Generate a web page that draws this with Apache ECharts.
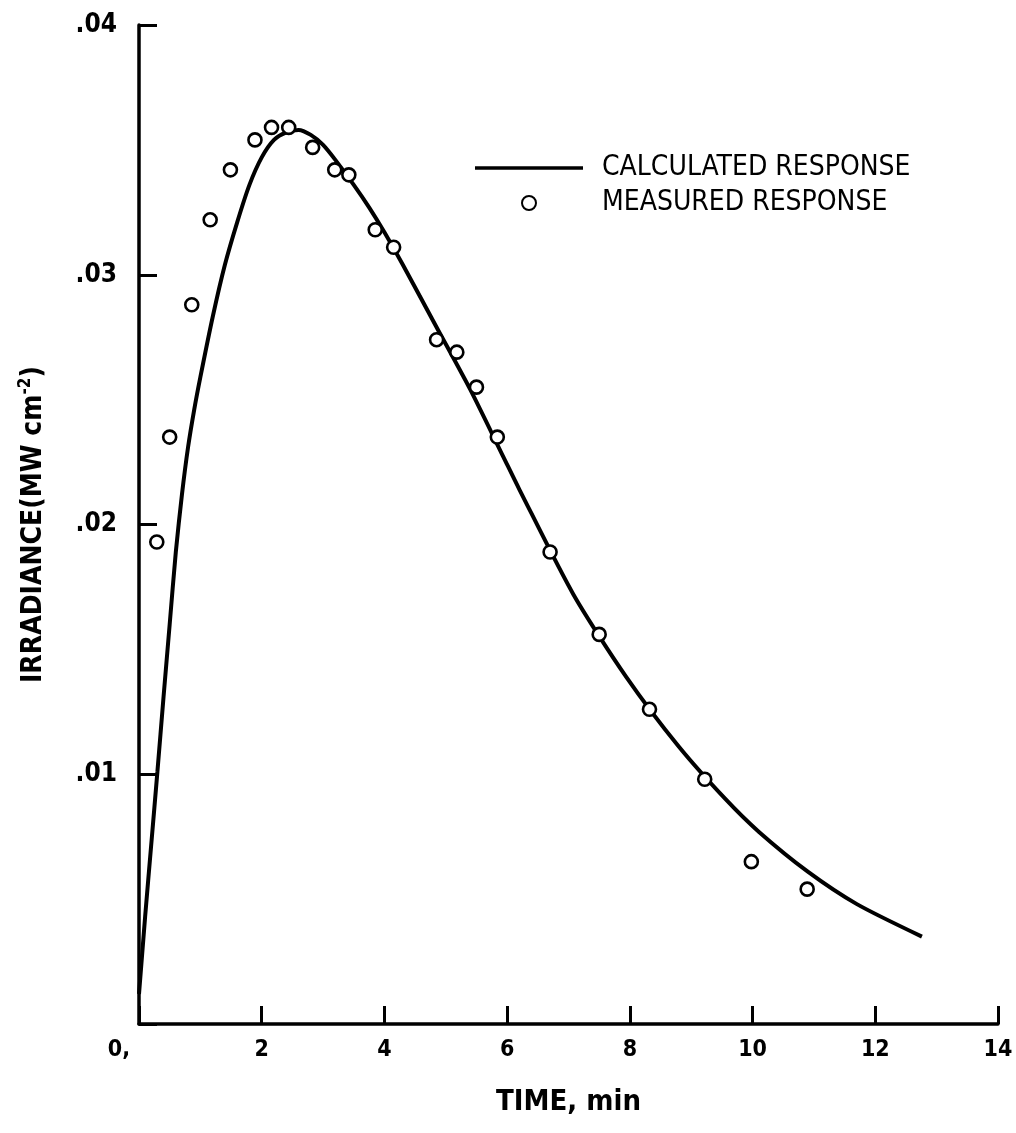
<!DOCTYPE html>
<html>
<head>
<meta charset="utf-8">
<title>Irradiance vs time</title>
<script src="https://cdn.jsdelivr.net/npm/echarts@6/dist/echarts.min.js"></script>
<style>
  html, body { margin: 0; padding: 0; background: #ffffff; }
  #chart { width: 1016px; height: 1133px; }
</style>
</head>
<body>
<div id="chart"></div>
<script>
// Axis tick labels
const xTickLabels = ['0,', '2', '4', '6', '8', '10', '12', '14'];
const yTickLabels = ['', '.01', '.02', '.03', '.04'];

// Calculated response curve (time in min, irradiance in MW cm^-2)
const calcTime = [0.0, 0.1, 0.2, 0.3, 0.4, 0.5, 0.6, 0.7, 0.8, 0.9, 1.0, 1.2, 1.4, 1.6, 1.8,
                  2.0, 2.2, 2.4, 2.6, 2.8, 3.0, 3.2, 3.5, 3.75, 4.0, 4.3, 4.85, 5.4, 5.94,
                  6.2, 7.08, 7.94, 8.8, 9.56, 10.1, 10.9, 11.7, 12.76];
const calcIrr  = [0.0012, 0.0043, 0.0072, 0.0101, 0.0131, 0.0160, 0.0189, 0.0212, 0.0231, 0.0246,
                  0.0259, 0.0283, 0.0304, 0.0321, 0.0336, 0.0347, 0.0354, 0.0357, 0.0358, 0.0356,
                  0.0352, 0.0346, 0.0336, 0.0327, 0.0317, 0.0304, 0.0279, 0.0254, 0.0227,
                  0.0214, 0.0172, 0.0139, 0.0111, 0.0090, 0.0077, 0.0061, 0.0048, 0.0035];

// Measured response points
const measTime = [0.29, 0.50, 0.86, 1.16, 1.49, 1.89, 2.16, 2.44, 2.83, 3.19, 3.42, 3.85,
                  4.15, 4.85, 5.18, 5.50, 5.84, 6.70, 7.50, 8.32, 9.22, 9.98, 10.89];
const measIrr  = [0.0193, 0.0235, 0.0288, 0.0322, 0.0342, 0.0354, 0.0359, 0.0359, 0.0351, 0.0342, 0.0340, 0.0318,
                  0.0311, 0.0274, 0.0269, 0.0255, 0.0235, 0.0189, 0.0156, 0.0126, 0.0098, 0.0065, 0.0054];

const COND = '"DejaVu Sans Condensed", "Liberation Sans Narrow", sans-serif';
const INK = '#000000';

const calcData = calcTime.map((t, i) => [t, calcIrr[i]]);
const measData = measTime.map((t, i) => [t, measIrr[i]]);

const chart = echarts.init(document.getElementById('chart'), null, { renderer: 'canvas' });

chart.setOption({
  backgroundColor: '#ffffff',
  animation: false,
  grid: { left: 139, right: 18, top: 25, bottom: 109, containLabel: false },
  legend: {
    orient: 'vertical',
    left: 475,
    top: 153,
    padding: 0,
    itemWidth: 108,
    itemHeight: 14,
    itemGap: 5,
    selectedMode: false,
    textStyle: {
      fontFamily: COND,
      fontSize: 28,
      color: INK,
      lineHeight: 30,
      padding: [0, 0, 0, 14]
    },
    data: [
      {
        name: 'CALCULATED RESPONSE',
        icon: 'path://M0,0H108V3.5H0Z',
        itemStyle: { color: INK, borderWidth: 0 }
      },
      { name: 'MEASURED RESPONSE', icon: 'circle' }
    ]
  },
  xAxis: {
    type: 'value',
    min: 0,
    max: 14,
    interval: 2,
    name: 'TIME, min',
    nameLocation: 'middle',
    nameGap: 64,
    nameTextStyle: { fontFamily: COND, fontWeight: 'bold', fontSize: 29, color: INK },
    axisLine: { show: true, lineStyle: { color: INK, width: 3.5 } },
    axisTick: { show: true, inside: true, length: 18, lineStyle: { color: INK, width: 3 } },
    axisLabel: {
      margin: 15,
      fontFamily: COND,
      fontWeight: 'bold',
      fontSize: 23,
      color: INK,
      formatter: function (v) {
        const idx = Math.round(v / 2);
        return idx === 0 ? '{z|' + xTickLabels[0] + '}' : xTickLabels[idx];
      },
      rich: {
        z: { fontFamily: COND, fontWeight: 'bold', fontSize: 23, color: INK, padding: [0, 40, 0, 0] }
      }
    },
    splitLine: { show: false }
  },
  yAxis: {
    type: 'value',
    min: 0,
    max: 0.04,
    interval: 0.01,
    name: '{a|IRRADIANCE(MW cm}{s|-2}{a|)}',
    nameLocation: 'middle',
    nameGap: 88,
    nameTextStyle: {
      rich: {
        a: { fontFamily: COND, fontWeight: 'bold', fontSize: 28, color: INK, lineHeight: 34 },
        s: { fontFamily: COND, fontWeight: 'bold', fontSize: 17, color: INK, verticalAlign: 'top', lineHeight: 20 }
      }
    },
    axisLine: { show: true, lineStyle: { color: INK, width: 3.5 } },
    axisTick: { show: true, inside: true, length: 18, lineStyle: { color: INK, width: 3 } },
    axisLabel: {
      margin: 22,
      fontFamily: COND,
      fontWeight: 'bold',
      fontSize: 26,
      color: INK,
      formatter: function (v) { return yTickLabels[Math.round(v / 0.01)]; }
    },
    splitLine: { show: false }
  },
  series: [
    {
      name: 'CALCULATED RESPONSE',
      type: 'line',
      data: calcData,
      smooth: 0.25,
      symbol: 'none',
      lineStyle: { color: INK, width: 4 },
      itemStyle: { color: INK },
      z: 2
    },
    {
      name: 'MEASURED RESPONSE',
      type: 'scatter',
      data: measData,
      symbol: 'circle',
      symbolSize: 13,
      itemStyle: { color: '#ffffff', borderColor: INK, borderWidth: 2.6, opacity: 1 },
      z: 3
    }
  ]
});
</script>
</body>
</html>
